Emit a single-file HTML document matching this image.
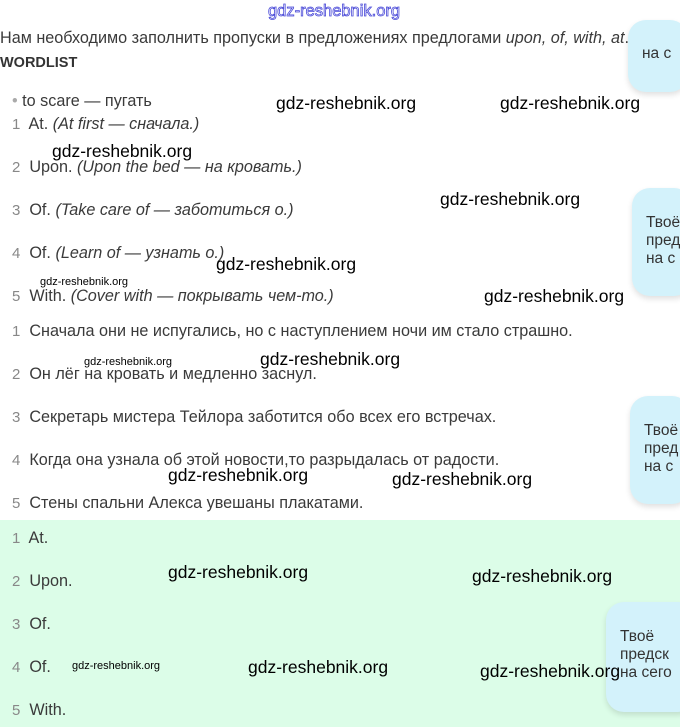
<!DOCTYPE html>
<html><head><meta charset="utf-8"><style>
body{margin:0;width:680px;height:727px;position:relative;overflow:hidden;background:#fff;font-family:"Liberation Sans","DejaVu Sans",sans-serif;color:#3a3a3a}
.a{position:absolute;white-space:nowrap}
.t{font-size:16.2px}
.n{color:#888;font-size:15px}
.w{position:absolute;font-size:17.5px;color:#000;white-space:nowrap}
.ws{position:absolute;font-size:11px;color:#000;white-space:nowrap}
.b{position:absolute;background:#d3f2fb;border-radius:18px;box-shadow:0 3px 6px rgba(0,0,0,.12);font-size:15.5px;color:#333;line-height:18px;padding:0 0 0 14px;box-sizing:border-box;overflow:hidden}
</style></head><body>
<div style="position:absolute;left:0;top:520px;width:680px;height:207px;background:#dcfde8"></div>
<div class="a" style="left:268px;top:2px;font-size:16.5px;color:#fff;-webkit-text-stroke:0.8px #4a4ad8">gdz-reshebnik.org</div>
<div class="b" style="left:628px;top:20px;width:60px;height:72px;padding-top:25px">на с</div>
<div class="a t" style="left:0;top:29px">Нам необходимо заполнить пропуски в предложениях предлогами <i>upon, of, with, at</i>.</div>
<div class="a" style="left:0;top:55px;font-size:14.5px;font-weight:bold;color:#333">WORDLIST</div>
<div class="a t" style="left:12px;top:92px"><span style="color:#aaa">•</span> to scare — пугать</div>
<div class="a t" style="left:12px;top:115px"><span class="n">1</span>&nbsp; At. <i>(At first — сначала.)</i></div>
<div class="a t" style="left:12px;top:158px"><span class="n">2</span>&nbsp; Upon. <i>(Upon the bed — на кровать.)</i></div>
<div class="a t" style="left:12px;top:201px"><span class="n">3</span>&nbsp; Of. <i>(Take care of — заботиться о.)</i></div>
<div class="a t" style="left:12px;top:244px"><span class="n">4</span>&nbsp; Of. <i>(Learn of — узнать о.)</i></div>
<div class="a t" style="left:12px;top:287px"><span class="n">5</span>&nbsp; With. <i>(Cover with — покрывать чем-то.)</i></div>
<div class="a t" style="left:12px;top:322px"><span class="n">1</span>&nbsp; Сначала они не испугались, но с наступлением ночи им стало страшно.</div>
<div class="a t" style="left:12px;top:365px"><span class="n">2</span>&nbsp; Он лёг на кровать и медленно заснул.</div>
<div class="a t" style="left:12px;top:408px"><span class="n">3</span>&nbsp; Секретарь мистера Тейлора заботится обо всех его встречах.</div>
<div class="a t" style="left:12px;top:451px"><span class="n">4</span>&nbsp; Когда она узнала об этой новости,то разрыдалась от радости.</div>
<div class="a t" style="left:12px;top:494px"><span class="n">5</span>&nbsp; Стены спальни Алекса увешаны плакатами.</div>
<div class="a t" style="left:12px;top:529px"><span class="n">1</span>&nbsp; At.</div>
<div class="a t" style="left:12px;top:572px"><span class="n">2</span>&nbsp; Upon.</div>
<div class="a t" style="left:12px;top:615px"><span class="n">3</span>&nbsp; Of.</div>
<div class="a t" style="left:12px;top:658px"><span class="n">4</span>&nbsp; Of.</div>
<div class="a t" style="left:12px;top:701px"><span class="n">5</span>&nbsp; With.</div>
<div class="b" style="left:632px;top:188px;width:60px;height:108px;padding-top:26px">Твоё<br>пред<br>на с</div>
<div class="b" style="left:630px;top:396px;width:60px;height:108px;padding-top:26px">Твоё<br>пред<br>на с</div>
<div class="b" style="left:606px;top:602px;width:90px;height:110px;padding-top:26px">Твоё<br>предск<br>на сего</div>
<div class="w" style="left:276px;top:93px">gdz-reshebnik.org</div>
<div class="w" style="left:500px;top:93px">gdz-reshebnik.org</div>
<div class="w" style="left:52px;top:141px">gdz-reshebnik.org</div>
<div class="w" style="left:440px;top:189px">gdz-reshebnik.org</div>
<div class="w" style="left:216px;top:254px">gdz-reshebnik.org</div>
<div class="ws" style="left:40px;top:276px">gdz-reshebnik.org</div>
<div class="w" style="left:484px;top:286px">gdz-reshebnik.org</div>
<div class="ws" style="left:84px;top:356px">gdz-reshebnik.org</div>
<div class="w" style="left:260px;top:349px">gdz-reshebnik.org</div>
<div class="w" style="left:168px;top:465px">gdz-reshebnik.org</div>
<div class="w" style="left:392px;top:469px">gdz-reshebnik.org</div>
<div class="w" style="left:168px;top:562px">gdz-reshebnik.org</div>
<div class="w" style="left:472px;top:566px">gdz-reshebnik.org</div>
<div class="ws" style="left:72px;top:660px">gdz-reshebnik.org</div>
<div class="w" style="left:248px;top:657px">gdz-reshebnik.org</div>
<div class="w" style="left:480px;top:661px">gdz-reshebnik.org</div>
</body></html>
